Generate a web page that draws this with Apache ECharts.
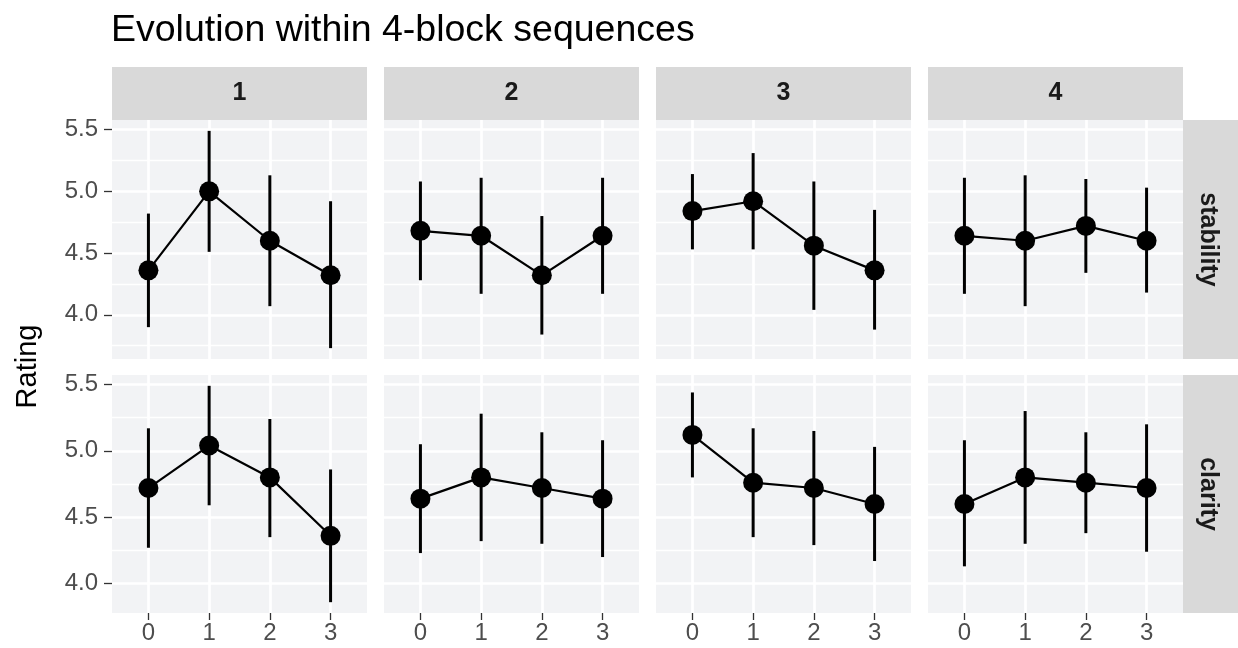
<!DOCTYPE html>
<html>
<head>
<meta charset="utf-8">
<script src="https://cdn.jsdelivr.net/npm/echarts@6/dist/echarts.min.js"></script>
<style>
  html, body { margin: 0; padding: 0; background: #fff; }
  #chart { width: 1238px; height: 648px; }
</style>
</head>
<body>
<div id="chart"></div>
<script>
// facets: columns = block position in the sequence, rows = measure
const blocks = ['1', '2', '3', '4'];
const measures = ['stability', 'clarity'];
const positions = [0, 1, 2, 3];
const yTicks = [4.0, 4.5, 5.0, 5.5];
const yMinorTicks = [3.75, 4.25, 4.75, 5.25];

// one row per block, one value per position
const stabilityMean = [
  [4.36, 5.00, 4.60, 4.32],
  [4.68, 4.64, 4.32, 4.64],
  [4.84, 4.92, 4.56, 4.36],
  [4.64, 4.60, 4.72, 4.60]
];
const stabilityLow = [
  [3.90, 4.51, 4.07, 3.73],
  [4.28, 4.17, 3.84, 4.17],
  [4.53, 4.53, 4.04, 3.88],
  [4.17, 4.07, 4.34, 4.18]
];
const stabilityHigh = [
  [4.82, 5.49, 5.13, 4.92],
  [5.08, 5.11, 4.80, 5.11],
  [5.14, 5.31, 5.08, 4.85],
  [5.11, 5.13, 5.10, 5.03]
];
const clarityMean = [
  [4.72, 5.04, 4.80, 4.36],
  [4.64, 4.80, 4.72, 4.64],
  [5.12, 4.76, 4.72, 4.60],
  [4.60, 4.80, 4.76, 4.72]
];
const clarityLow = [
  [4.27, 4.59, 4.35, 3.86],
  [4.23, 4.32, 4.30, 4.20],
  [4.80, 4.35, 4.29, 4.17],
  [4.13, 4.30, 4.38, 4.24]
];
const clarityHigh = [
  [5.17, 5.49, 5.24, 4.86],
  [5.05, 5.28, 5.14, 5.08],
  [5.44, 5.17, 5.15, 5.03],
  [5.08, 5.30, 5.14, 5.20]
];

const rows = [
  { mean: stabilityMean, low: stabilityLow, high: stabilityHigh },
  { mean: clarityMean, low: clarityLow, high: clarityHigh }
];

const FONT = '"Liberation Sans", Arial, Helvetica, sans-serif';
const colLeft = [112, 384, 656, 928];
const panelW = 255;
const rowTop = [120, 375];
const panelH = [239, 238];
const stripTop = 67;
const stripRight = 1183;

// free y scale per row, ggplot style 5% expansion
const yRange = rows.map(r => {
  const lo = Math.min(...r.low.flat());
  const hi = Math.max(...r.high.flat());
  const pad = (hi - lo) * 0.05;
  return [lo - pad, hi + pad];
});

const grid = [], xAxis = [], yAxis = [], series = [];

rows.forEach((row, r) => {
  const [ymin, ymax] = yRange[r];
  const minors = yMinorTicks.filter(v => v > ymin && v < ymax);
  blocks.forEach((b, c) => {
    const idx = r * 4 + c;
    grid.push({
      left: colLeft[c], top: rowTop[r], width: panelW, height: panelH[r],
      show: true, backgroundColor: '#F2F3F5', borderWidth: 0
    });
    xAxis.push({
      type: 'value', gridIndex: idx, min: -0.6, max: 3.6, position: 'bottom',
      axisLine: { show: false, onZero: false },
      axisTick: { show: r === 1, customValues: positions, length: 7, lineStyle: { color: '#333', width: 1.3 } },
      axisLabel: { show: r === 1, customValues: positions, margin: 8, color: '#4D4D4D', fontSize: 24, fontFamily: FONT },
      splitLine: { show: true, lineStyle: { color: '#fff', width: 2.7 } }
    });
    yAxis.push({
      type: 'value', gridIndex: idx, min: ymin, max: ymax, position: 'left',
      axisLine: { show: false, onZero: false },
      axisTick: { show: c === 0, customValues: yTicks, length: 8, lineStyle: { color: '#333', width: 1.3 } },
      axisLabel: {
        show: c === 0, customValues: yTicks, margin: 14, color: '#4D4D4D', fontSize: 24, fontFamily: FONT,
        formatter: v => v.toFixed(1)
      },
      splitLine: { show: true, lineStyle: { color: '#fff', width: 2.7 } }
    });
    yAxis.push({
      type: 'value', gridIndex: idx, min: ymin, max: ymax, position: 'left',
      axisLine: { show: false, onZero: false },
      axisTick: { show: false, customValues: minors },
      axisLabel: { show: false, customValues: minors },
      splitLine: { show: true, lineStyle: { color: '#fff', width: 1.3 } }
    });

    series.push({
      type: 'custom', xAxisIndex: idx, yAxisIndex: idx * 2, z: 2,
      data: positions.map((p, i) => [p, row.low[c][i], row.high[c][i]]),
      renderItem: (params, api) => {
        const a = api.coord([api.value(0), api.value(2)]);
        const z = api.coord([api.value(0), api.value(1)]);
        return {
          type: 'line',
          shape: { x1: a[0], y1: a[1], x2: z[0], y2: z[1] },
          style: { stroke: '#000', lineWidth: 3 }
        };
      }
    });
    series.push({
      type: 'line', xAxisIndex: idx, yAxisIndex: idx * 2, z: 3,
      data: positions.map((p, i) => [p, row.mean[c][i]]),
      symbol: 'circle', symbolSize: 20,
      itemStyle: { color: '#000' },
      lineStyle: { color: '#000', width: 2.2 }
    });
  });
});

const graphic = [];
blocks.forEach((b, c) => {
  graphic.push({
    type: 'rect', shape: { x: colLeft[c], y: stripTop, width: panelW, height: rowTop[0] - stripTop },
    style: { fill: '#D9D9D9' }
  });
  graphic.push({
    type: 'text', x: colLeft[c] + panelW / 2, y: (stripTop + rowTop[0]) / 2,
    style: { text: b, align: 'center', verticalAlign: 'middle', fill: '#1A1A1A', font: 'bold 25px ' + FONT }
  });
});
measures.forEach((m, r) => {
  graphic.push({
    type: 'rect', shape: { x: stripRight, y: rowTop[r], width: 1238 - stripRight, height: panelH[r] },
    style: { fill: '#D9D9D9' }
  });
  graphic.push({
    type: 'text', x: 1208, y: rowTop[r] + panelH[r] / 2, rotation: -Math.PI / 2,
    style: { text: m, align: 'center', verticalAlign: 'middle', fill: '#1A1A1A', font: 'bold 25px ' + FONT }
  });
});
graphic.push({
  type: 'text', x: 28, y: (rowTop[0] + rowTop[1] + panelH[1]) / 2, rotation: Math.PI / 2,
  style: { text: 'Rating', align: 'center', verticalAlign: 'middle', fill: '#000', font: '29px ' + FONT }
});

const chart = echarts.init(document.getElementById('chart'));
chart.setOption({
  animation: false,
  backgroundColor: '#fff',
  title: {
    text: 'Evolution within 4-block sequences',
    left: 111, top: 12, padding: 0,
    textStyle: { fontSize: 37.5, fontWeight: 'normal', color: '#000', fontFamily: FONT }
  },
  grid, xAxis, yAxis, series, graphic
});
</script>
</body>
</html>
